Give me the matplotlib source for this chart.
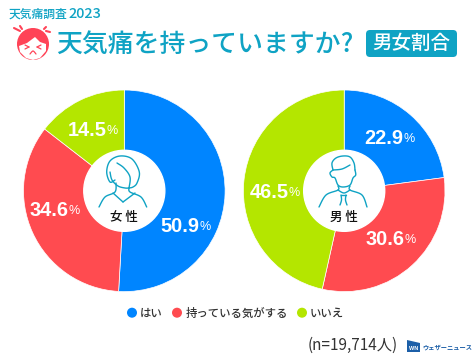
import matplotlib
matplotlib.use("Agg")
import matplotlib.pyplot as plt
import numpy as np
from matplotlib.patches import Circle, FancyBboxPatch, Polygon

plt.rcParams['font.family'] = ['Noto Sans CJK JP', 'DejaVu Sans']

W = 477
H = 358

labels = ['はい', '持っている気がする', 'いいえ']
colors = ['#0085FF', '#FF4B50', '#B4E600']
women = [50.9, 34.6, 14.5]
men = [22.9, 30.6, 46.5]
teal = '#0FA3C4'
dark = '#333333'
red = '#FF4357'

fig = plt.figure(figsize=(W / 100, H / 100), dpi=100)


def donut(cx, cy, r, values):
    ax = fig.add_axes([(cx - r) / W, 1 - (cy + r) / H, 2 * r / W, 2 * r / H])
    ax.pie(values, colors=colors, startangle=90, counterclock=False, radius=1,
           wedgeprops={'edgecolor': 'white', 'linewidth': 0.5})
    ax.set_xlim(-1, 1)
    ax.set_ylim(-1, 1)
    ax.add_patch(Circle((0, 0), 0.402, color='white', zorder=5))


donut(124.3, 190.8, 100.8, women)
donut(344.2, 190.8, 100.8, men)

# overlay in image pixels for the text and icons
bg = fig.add_axes([0, 0, 1, 1])
bg.set_xlim(0, W)
bg.set_ylim(H, 0)
bg.axis('off')
bg.patch.set_alpha(0)


def pct(x, y, v):
    bg.text(x, y, f'{v}', ha='left', va='center', color='white', fontsize=14.4, weight='bold',
            family='Liberation Sans', zorder=6)
    bg.text(x + 39, y + 0.5, '%', ha='left', va='center', color='white', fontsize=9,
            family='Liberation Sans', zorder=6)


for (x, y), v in zip([(160.7, 226.7), (29.3, 210), (67.3, 130.7)], women):
    pct(x, y, v)
for (x, y), v in zip([(364.3, 138), (365.7, 239.3), (249.3, 192.7)], men):
    pct(x, y, v)

bg.text(123.5, 217, '女 性', ha='center', va='center', fontsize=9, weight='medium', color='#111111')
bg.text(343.7, 217, '男 性', ha='center', va='center', fontsize=9, weight='medium', color='#111111')


def curve(pts, lw=1.0, color=teal):
    # catmull-rom so the icon outlines are not angular
    pts = np.array(pts, float)
    if len(pts) > 2:
        p = np.vstack([pts[0], pts, pts[-1]])
        out = []
        for i in range(1, len(p) - 2):
            for t in np.linspace(0, 1, 8, endpoint=False):
                out.append(0.5 * (2 * p[i] + (p[i + 1] - p[i - 1]) * t
                                  + (2 * p[i - 1] - 5 * p[i] + 4 * p[i + 1] - p[i + 2]) * t ** 2
                                  + (3 * p[i] - p[i - 1] - 3 * p[i + 1] + p[i + 2]) * t ** 3))
        out.append(pts[-1])
        pts = np.array(out)
    bg.plot(pts[:, 0], pts[:, 1], color=color, lw=lw, zorder=10, solid_capstyle='round',
            solid_joinstyle='round', clip_on=False)


# header
bg.text(9, 14, '天気痛調査', fontsize=8.5, weight='medium', color=teal, ha='left', va='center')
bg.text(68, 13.5, '2023', fontsize=10.4, weight='medium', color=teal, ha='left', va='center')
bg.text(56, 45, '天気痛を持っていますか?', fontsize=18.6, weight='medium', color=teal, ha='left', va='center')
bg.add_patch(FancyBboxPatch((366, 30), 91, 27, boxstyle='round,pad=0,rounding_size=4', fc=teal, ec='none'))
bg.text(411.5, 43.5, '男女割合', fontsize=14, weight='medium', color='white', ha='center', va='center')

# face icon
bg.add_patch(Circle((33, 44), 16, fc=red, ec='none', zorder=3))
bg.add_patch(Polygon([(19, 46), (27, 43), (35, 37), (40, 42), (46, 44), (46, 51), (40, 58), (33, 60), (26, 58), (20, 52)],
                     fc='white', ec='none', zorder=4))
curve([(25, 45), (29, 47)], lw=0.9, color=red)
curve([(29, 47), (25, 49)], lw=0.9, color=red)
curve([(41, 45), (37, 47)], lw=0.9, color=red)
curve([(37, 47), (41, 49)], lw=0.9, color=red)
curve([(30, 54), (33, 51), (36, 54)], lw=0.9, color=red)
curve([(14, 28), (20, 31)], lw=1.5, color=red)
curve([(20, 26), (22, 29)], lw=1.5, color=red)
curve([(46, 27), (44, 29)], lw=1.5, color=red)
curve([(46, 31), (50, 32)], lw=1.5, color=red)

# woman icon
curve([(115, 180), (110, 182), (106.7, 172), (110, 161), (120, 156), (132, 159), (139.3, 172), (137, 183), (133, 187), (129, 188)])
curve([(117, 163), (124, 168), (130, 177), (129, 188)])
curve([(110, 172), (112, 180), (118, 186), (125, 188), (129, 188)])
curve([(116, 183), (115, 192), (105, 197), (99, 207)])
curve([(129, 188), (130, 192), (141, 197), (146.7, 207)])
curve([(113, 193), (123, 202)])
curve([(123, 202), (135, 193)])

# man icon
curve([(333, 170), (332, 163), (336, 158), (343, 156), (350, 157), (354, 163), (355, 170)])
curve([(333, 170), (342, 169), (350, 165)])
curve([(333, 170), (330, 173), (332, 177), (335, 178), (338, 185), (343, 187), (350, 185), (353, 178), (355.7, 175), (355, 170)])
curve([(338, 186), (338, 190), (326, 195), (319, 207)])
curve([(350, 186), (350, 190), (362, 195), (367, 207)])
curve([(338, 190), (344, 193), (350, 190)])
curve([(341, 195), (346, 195)])
curve([(341, 195), (341.5, 200), (340, 205)])
curve([(346, 195), (345.5, 200), (347, 205)])

# legend
lx = [132, 177, 302]
tx = [140, 186, 310]
for x, t, lab, c in zip(lx, tx, labels, colors):
    bg.add_patch(Circle((x, 312.7), 5, fc=c, ec='none'))
    bg.text(t, 313, lab, fontsize=8.2, weight='medium', color=dark, ha='left', va='center')

# footer
bg.text(308, 345.5, '(n=19,714人)', fontsize=11, color=dark, ha='left', va='center')
bg.add_patch(Polygon([(407, 340), (420, 343), (420, 352), (407, 352)], fc='#1C5FA8', ec='none'))
bg.text(413.5, 348, 'WN', fontsize=4, weight='bold', color='white', ha='center', va='center', family='Liberation Sans')
bg.text(422, 347, 'ウェザーニュース', fontsize=4.5, weight='bold', color='#1C5FA8', ha='left', va='center')

fig.savefig('out.png', dpi=100)
